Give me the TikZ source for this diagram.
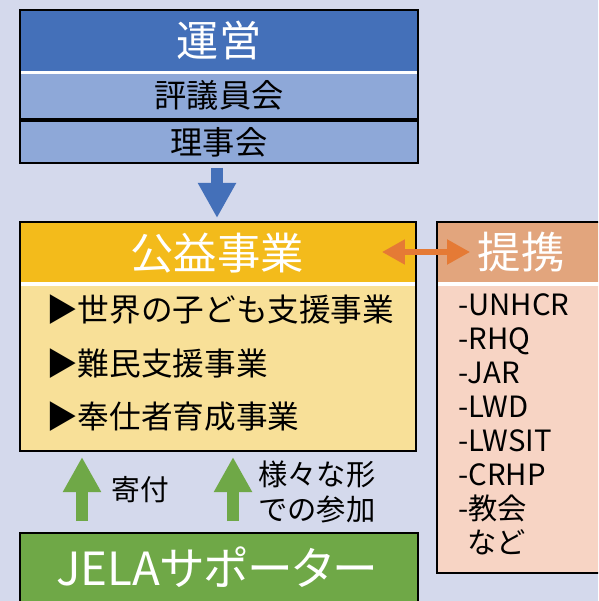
\documentclass[tikz,border=0pt]{standalone}
\usepackage{fontspec}
\setmainfont{Noto Sans CJK JP}
\newfontfamily\kanafont[RawFeature=+palt]{Noto Sans CJK JP}
\usetikzlibrary{arrows.meta,calc}

\definecolor{bgpanel}{HTML}{D4D9EC}
\definecolor{uneiblue}{HTML}{4470B9}
\definecolor{subblue}{HTML}{8EA8D8}
\definecolor{jigyogold}{HTML}{F3BB1B}
\definecolor{jigyolight}{HTML}{F8E098}
\definecolor{teikeihead}{HTML}{E2A57D}
\definecolor{teikeibody}{HTML}{F7D4C4}
\definecolor{supportgreen}{HTML}{6FA847}
\definecolor{linkorange}{HTML}{E57A35}

\tikzset{
  frame/.style={draw=black, line width=1.8pt},
  headtext/.style={text=white, font=\fontsize{36}{40}\selectfont, inner sep=0pt},
  subtext/.style={text=black, font=\fontsize{27.5}{30}\selectfont, inner sep=0pt},
  itemtext/.style={text=black, font=\fontsize{27}{30}\selectfont, inner sep=0pt, anchor=west},
  listtext/.style={text=black, font=\fontsize{25}{29}\selectfont, inner sep=0pt, anchor=base west},
  blocktip/.style={line width=10.5pt, -{Triangle[width=30.7pt, length=30pt]}},
}

\begin{document}
\begin{tikzpicture}[x=0.03cm, y=-0.03cm]

% Page area and background
\useasboundingbox (0,0) rectangle (598,601);
\fill[bgpanel] (0,0) rectangle (598,601);
\clip (0,0) rectangle (598,601);

% Top box (management)
\fill[uneiblue] (20,10) rectangle (418,71);
\fill[white] (20,71) rectangle (418,74);
\fill[subblue] (20,74) rectangle (418,119);
\fill[subblue] (20,121) rectangle (418,163);
\draw[line width=2.6pt] (20,120) -- (418,120);
\draw[frame] (20,10) rectangle (418,163);

\node[headtext] (unei) at (219,40) {運営};
\node[subtext] (hyogi) at (219,95) {評議員会};
\node[subtext] (riji) at (219,142) {理事会};

% Middle box (public benefit work)
\fill[jigyogold] (20,222) rectangle (416,282);
\fill[white] (20,282) rectangle (416,286);
\fill[jigyolight] (20,286) rectangle (416,451);
\draw[frame] (20,222) rectangle (416,451);

\node[headtext, font=\fontsize{37}{40}\selectfont] (jigyo) at (217,253) {公益事業};
\node[itemtext] (item1) at (46,310) {▶世界の子ども支援事業};
\node[itemtext] (item2) at (46,364) {▶難民支援事業};
\node[itemtext] (item3) at (46,417) {▶奉仕者育成事業};

% Partner box on the right
\fill[teikeihead] (437,222) rectangle (620,282);
\fill[white] (437,282) rectangle (620,286);
\fill[teikeibody] (437,286) rectangle (620,573);
\draw[frame] (437,222) rectangle (620,573);

\node[headtext, font=\fontsize{37}{40}\selectfont] (teikei) at (521,252) {提携};
\foreach \name [count=\i] in {-UNHCR,-RHQ,-JAR,-LWD,-LWSIT,-CRHP,-教会}
  \node[listtext] (p\i) at (458,{315+(\i-1)*34}) {\name};
\node[listtext] (p8) at (467,553) {など};

% Supporter box at the bottom
\fill[supportgreen] (20,533) rectangle (418,620);
\draw[frame] (20,533) rectangle (418,620);
\node[headtext, font=\kanafont\fontsize{39}{40}\selectfont] (supporter) at (217,567) {JELAサポーター};

% Arrow ends
\coordinate (down-top) at (217,168);
\coordinate (down-tip) at (217,218);
\coordinate (link-left) at (382,252);
\coordinate (link-right) at (470,252);
\coordinate (gift-foot) at (82,521);
\coordinate (gift-tip) at (82,457);
\coordinate (join-foot) at (233,521);
\coordinate (join-tip) at (233,457);

% Blue arrow from management to the work
\draw[blocktip, uneiblue] (down-top) -- (down-tip);

% Orange two-way arrow to the partners
\draw[linkorange, line width=4.3pt,
  {Triangle[width=20.5pt, length=19.6pt]}-{Triangle[width=20.5pt, length=19.6pt]}]
  (link-left) -- (link-right);

% Green arrows from the supporters
\draw[blocktip, supportgreen, line width=11pt] (gift-foot) -- (gift-tip);
\draw[blocktip, supportgreen, line width=11pt] (join-foot) -- (join-tip);

% Labels of the green arrows
\node[subtext, font=\fontsize{24.5}{28}\selectfont] (kifu) at (140,490) {寄付};
\node[subtext, font=\fontsize{25}{30}\selectfont, align=left, anchor=west] (sanka) at (258,492) {様々な形\\での参加};

\end{tikzpicture}
\end{document}
